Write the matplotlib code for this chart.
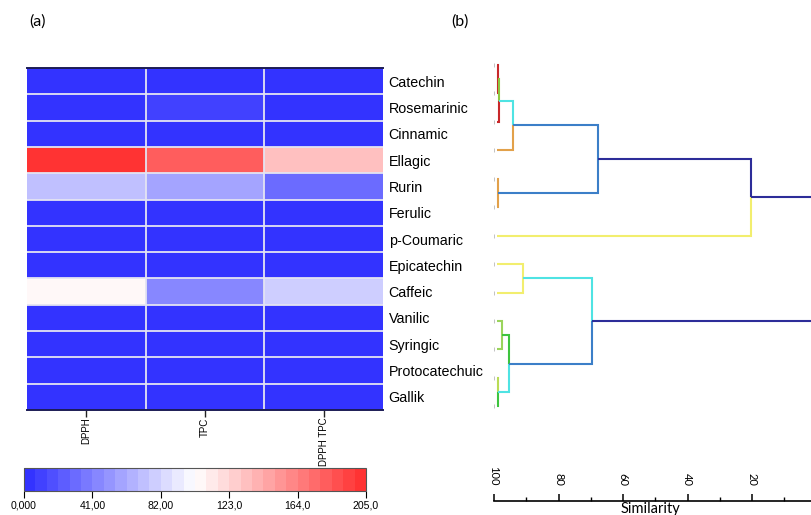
import numpy as np
import matplotlib
matplotlib.use("Agg")
import matplotlib.pyplot as plt
from matplotlib.colors import LinearSegmentedColormap, Normalize
from matplotlib.cm import ScalarMappable
from matplotlib.ticker import MultipleLocator

# ---------------- data ----------------
compounds = ["Catechin", "Rosemarinic", "Cinnamic", "Ellagic", "Rurin", "Ferulic",
             "p-Coumaric", "Epicatechin", "Caffeic", "Vanilic", "Syringic",
             "Protocatechuic", "Gallik"]
assays = ["DPPH", "TPC", "DPPH TPC"]
dpph = [2, 2, 2, 200, 71, 2, 1, 2, 105, 1, 1, 1, 1]
tpc = [3, 9, 3, 181, 57, 2, 2, 2, 41.5, 2, 2, 2, 2]
dpph_tpc = [2, 2, 2, 133, 30, 1, 1, 1, 78, 1, 1, 1, 1]

cbar_ticks = [0, 41, 82, 123, 164, 205]
cbar_ticklabels = ["0,000", "41,00", "82,00", "123,0", "164,0", "205,0"]

# hierarchical clustering (similarity, %): children and merge level
link_a = [0, 13, 14, 4, 15, 17, 7, 9, 11, 20, 19, 18]
link_b = [1, 2, 3, 5, 16, 6, 8, 10, 12, 21, 22, 23]
link_sim = [98.8, 98.4, 94.1, 98.8, 67.8, 20.4, 91.1, 97.6, 98.7, 95.3, 69.6, -8.0]
link_col_a = ["#c8282a", "#8cc63f", "#4fe3e3", "#e2a14a", "#3c7fc8", "#2d2d99",
              "#f2ee6e", "#9ad45c", "#b9dc55", "#3ec43e", "#4fe3e3", "#2d2d99"]
link_col_b = ["#c8282a", "#c8282a", "#e2a14a", "#e2a14a", "#3c7fc8", "#f2ee6e",
              "#f2ee6e", "#9ad45c", "#3ec43e", "#4fe3e3", "#3c7fc8", "#2d2d99"]
sim_ticks = [100, 80, 60, 40, 20]

# ---------------- figure ----------------
W, H = 811, 515
fig = plt.figure(figsize=(W / 100, H / 100), dpi=100)


def px_axes(x0, y0, x1, y1, **kw):
    return fig.add_axes([x0 / W, 1 - y1 / H, (x1 - x0) / W, (y1 - y0) / H], **kw)


sans = ["Liberation Sans", "DejaVu Sans"]
cal = ["Lato", "DejaVu Sans"]

cmap = LinearSegmentedColormap.from_list("bwr30", ["#3333ff", "#ffffff", "#ff3333"], N=30)
norm = Normalize(0, 205)

# ---- (a) heatmap ----
ax = px_axes(27, 68, 383, 410)
Z = np.column_stack([dpph, tpc, dpph_tpc])
ax.pcolormesh(np.arange(len(assays) + 1), np.arange(len(compounds) + 1), Z,
              cmap=cmap, norm=norm)
ax.set_xlim(0, len(assays))
ax.set_ylim(len(compounds), 0)
for i in range(1, len(compounds)):
    ax.axhline(i, color="#e4e4f2", lw=1.3)
for j in range(1, len(assays)):
    ax.axvline(j, color="#e4e4f2", lw=1.3)
for s in ("left", "right"):
    ax.spines[s].set_visible(False)
for s in ("top", "bottom"):
    ax.spines[s].set_color("#1c1c55")
    ax.spines[s].set_linewidth(1.4)
ax.set_xticks(np.arange(len(assays)) + 0.5)
ax.set_xticklabels(assays, rotation=90, fontsize=7, family=sans, va="top")
ax.tick_params(axis="x", length=5, width=1, pad=0.5, color="#222222")
ax.yaxis.tick_right()
ax.set_yticks(np.arange(len(compounds)) + 0.5)
ax.set_yticklabels(compounds, fontsize=10.3, family=sans)
ax.tick_params(axis="y", length=0, pad=4)

# colour scale
cax = px_axes(24, 468, 366, 491)
cb = fig.colorbar(ScalarMappable(norm=norm, cmap=cmap), cax=cax, orientation="horizontal")
cb.set_ticks(cbar_ticks)
cb.set_ticklabels(cbar_ticklabels)
cb.outline.set_edgecolor("#555555")
cb.outline.set_linewidth(0.8)
cax.tick_params(length=5, width=0.8, labelsize=7.6, pad=2)
for t in cax.get_xticklabels():
    t.set_family(sans)

fig.text(37 / W, 1 - 22 / H, "(a)", fontsize=11.5, family=cal, ha="center", va="center")
fig.text(460 / W, 1 - 22 / H, "(b)", fontsize=11.5, family=cal, ha="center", va="center")

# ---- (b) dendrogram ----
s_per_px = 1 / 3.225
s_left = 100 + (494 - 490) * s_per_px
s_right = 100 - (811 - 494) * s_per_px
dax = px_axes(490, 50, 811, 420)
dax.set_xlim(s_left, s_right)
dax.set_ylim(12 + 8 / 28.4 + 0.2, -15 / 28.4)
dax.axis("off")

n = len(compounds)
leaf_start = 99.0
node_x = {i: leaf_start for i in range(n)}
node_y = {i: float(i) for i in range(n)}
for k, (a, b, s) in enumerate(zip(link_a, link_b, link_sim)):
    nid = n + k
    ym = (node_y[a] + node_y[b]) / 2
    for c, col in ((a, link_col_a[k]), (b, link_col_b[k])):
        dax.plot([node_x[c], s, s], [node_y[c], node_y[c], ym], color=col, lw=1.5,
                 solid_capstyle="butt", solid_joinstyle="miter")
    node_x[nid] = s
    node_y[nid] = ym

# tiny leaf markers
dax.plot([100.0] * n, np.arange(n), ls="none", marker="|", ms=3, color="#b8b8b8", mew=0.6)

# similarity scale
sax = fig.add_axes([490 / W, 1 - 501 / H, 321 / W, 0.0001], sharex=dax)
sax.set_ylim(0, 1)
for s in ("left", "right", "bottom"):
    sax.spines[s].set_visible(False)
sax.spines["top"].set_bounds(100, s_right)
sax.spines["top"].set_linewidth(1.2)
sax.xaxis.tick_top()
sax.set_yticks([])
sax.set_xticks(sim_ticks)
sax.xaxis.set_minor_locator(MultipleLocator(10))
sax.tick_params(axis="x", which="major", direction="out", length=5, width=1.1,
                labelsize=8, pad=6, labelrotation=-90)
sax.tick_params(axis="x", which="minor", direction="out", length=3, width=1.0)
for t in sax.get_xticklabels():
    t.set_family(cal)
sax.xaxis.set_label_position("bottom")
sax.set_xlabel("Similarity", fontsize=10.5, family=cal, labelpad=0.5)

fig.savefig("out.png", dpi=100)
